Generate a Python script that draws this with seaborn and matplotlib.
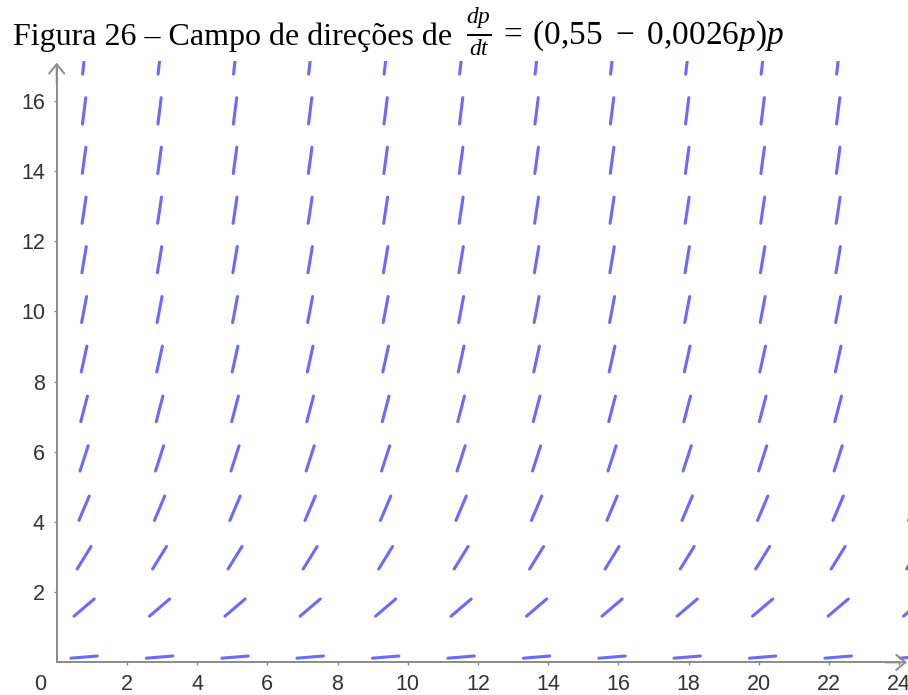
import numpy as np
import pandas as pd
import matplotlib
matplotlib.use("Agg")
import matplotlib.pyplot as plt
import seaborn as sns

# Grid of sample points (t, p) where the slope segments are drawn
t_cols = [0.78, 2.93, 5.08, 7.22, 9.37, 11.52, 13.67, 15.82, 17.96, 20.11, 22.26, 24.41]
p_rows = [0.15, 1.56, 2.98, 4.39, 5.81, 7.22, 8.64, 10.05, 11.47, 12.88, 14.30, 15.71, 17.13]

# Logistic model dp/dt = (r - k p) p
r_coef = 0.55
k_coef = 0.0026

x_ticks = [2, 4, 6, 8, 10, 12, 14, 16, 18, 20, 22, 24]
y_ticks = [2, 4, 6, 8, 10, 12, 14, 16]

seg_len = 0.755  # length of each slope segment in data units (equal scales)

rows = []
seg = 0
for t0 in t_cols:
    for p0 in p_rows:
        m = (r_coef - k_coef * p0) * p0
        dx = seg_len / 2 / np.sqrt(1 + m * m)
        dy = m * dx
        rows.append({"seg": seg, "order": 0, "t": t0 - dx, "p": p0 - dy})
        rows.append({"seg": seg, "order": 1, "t": t0 + dx, "p": p0 + dy})
        seg += 1
df = pd.DataFrame(rows)

sns.set_theme(style="white")
plt.rcParams["font.family"] = ["Liberation Sans", "DejaVu Sans"]
plt.rcParams["mathtext.fontset"] = "custom"
plt.rcParams["mathtext.rm"] = "Liberation Serif"
plt.rcParams["mathtext.it"] = "Liberation Serif:italic"
plt.rcParams["mathtext.bf"] = "Liberation Serif:bold"

axis_gray = "#8a8a8a"
seg_color = "#6a6aff"
label_color = "#333333"

fig = plt.figure(figsize=(9.08, 6.95), dpi=100)
ax = fig.add_axes([0, 0, 1, 634 / 695])

sns.lineplot(data=df, x="t", y="p", units="seg", estimator=None, sort=False,
             color=seg_color, lw=2.2, solid_capstyle="round", legend=False, ax=ax)

ax.set_xlim(-1.615, 24.25)
ax.set_ylim(-0.93, 17.13)
ax.set_xlabel("")
ax.set_ylabel("")

# Axes through the origin, positive half only
for side in ("top", "right"):
    ax.spines[side].set_visible(False)
ax.spines["left"].set_position(("data", 0))
ax.spines["bottom"].set_position(("data", 0))
ax.spines["left"].set_bounds(0, 16.9)
ax.spines["bottom"].set_bounds(0, 24.0)
for side in ("left", "bottom"):
    ax.spines[side].set_color(axis_gray)
    ax.spines[side].set_linewidth(1.4)

arrow_kw = dict(arrowstyle="->,head_length=0.33,head_width=0.27", color=axis_gray,
                lw=1.4, mutation_scale=20, shrinkA=0, shrinkB=0)
ax.annotate("", xy=(0, 17.08), xytext=(0, 16.5), arrowprops=arrow_kw, annotation_clip=False)
ax.annotate("", xy=(24.22, 0), xytext=(23.6, 0), arrowprops=arrow_kw, annotation_clip=False)

ax.set_xticks(x_ticks)
ax.set_yticks(y_ticks)
ax.set_xticklabels([str(v) for v in x_ticks])
ax.set_yticklabels([str(v) for v in y_ticks])
ax.tick_params(axis="both", direction="out", length=2.5, width=1.0, color=axis_gray,
               labelsize=15.5, labelcolor=label_color, pad=6)
ax.tick_params(axis="x", bottom=True)
ax.tick_params(axis="y", left=True)
ax.text(-0.48, -0.336, "0", ha="center", va="top", fontsize=15.5, color=label_color)

# Caption
fig.text(13 / 908, 1 - 45 / 695, "Figura 26 – Campo de direções de",
         fontfamily="Liberation Serif", fontsize=23, color="black",
         ha="left", va="baseline")
fig.text(466 / 908, 1 - 45 / 695,
         r"$\frac{dp}{dt}\:=\:(0{,}55\ -\ 0{,}0026p)p$",
         fontsize=24, color="black", ha="left", va="baseline")

fig.savefig("out.png", dpi=100)
